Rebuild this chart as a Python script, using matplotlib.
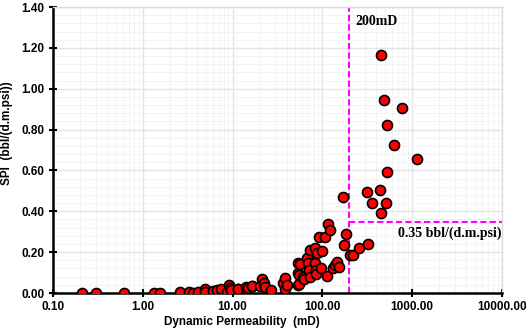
import numpy as np
import matplotlib.pyplot as plt
from matplotlib.ticker import FixedLocator, LogLocator, NullFormatter

# Dynamic permeability (mD) and SPI (bbl/(d.m.psi))
perm = [0.21, 0.30, 0.61, 1.32, 1.57, 2.6, 3.27, 3.6, 4.15, 4.9, 4.9, 6.1,
        6.65, 7.4, 8.6, 9.2, 9.3, 9.7, 11.6, 11.6, 14.1, 14.6, 15.0, 16.3,
        16.6, 20.2, 21.1, 22.5, 22.9, 26.8, 36.1, 38.4, 38.4, 40.0, 53.8,
        53.8, 53.8, 55.3, 55.3, 56.0, 61.2, 63.0, 66.8, 69.0, 70.8, 72.0,
        73.0, 82.8, 82.8, 85.0, 85.0, 87.5, 92.6, 95.7, 99.0, 107, 113.5,
        116, 121.6, 132, 138, 145, 154, 171, 174, 183, 205, 219, 256, 324,
        311, 435, 357, 507, 446, 446, 485, 769, 520, 627, 1122, 520]
spi = [0.0, 0.0, 0.0, 0.0, 0.0, 0.005, 0.007, 0.0, 0.003, 0.02, 0.003, 0.01,
       0.015, 0.02, 0.005, 0.04, 0.025, 0.015, 0.02, 0.018, 0.028, 0.015,
       0.025, 0.034, 0.035, 0.034, 0.067, 0.05, 0.028, 0.015, 0.05, 0.072,
       0.018, 0.039, 0.145, 0.096, 0.039, 0.044, 0.088, 0.142, 0.08, 0.07,
       0.17, 0.145, 0.112, 0.08, 0.21, 0.218, 0.148, 0.112, 0.093, 0.194,
       0.275, 0.12, 0.207, 0.275, 0.083, 0.337, 0.308, 0.12, 0.137, 0.153,
       0.128, 0.47, 0.236, 0.287, 0.186, 0.184, 0.221, 0.241, 0.493, 0.505,
       0.44, 0.44, 0.394, 1.163, 0.943, 0.907, 0.82, 0.723, 0.658, 0.594]

x_ticks = [0.1, 1, 10, 100, 1000, 10000]
y_ticks = [0.0, 0.2, 0.4, 0.6, 0.8, 1.0, 1.2, 1.4]
perm_cut = 200
spi_cut = 0.35

fig = plt.figure(figsize=(5.26, 3.34), dpi=100)
ax = fig.add_axes([53 / 526, 1 - 293 / 334, (502 - 53) / 526, (293 - 7) / 334])

ax.scatter(perm, spi, s=52, c="#ff0000", edgecolors="black", linewidths=1.2, zorder=3)

ax.set_xscale("log")
ax.set_xlim(0.1, 10000)
ax.set_ylim(0, 1.4)

ax.xaxis.set_major_locator(FixedLocator(x_ticks))
ax.set_xticklabels([f"{v:.2f}" for v in x_ticks])
ax.xaxis.set_minor_locator(LogLocator(base=10, subs=np.arange(2, 10)))
ax.xaxis.set_minor_formatter(NullFormatter())
ax.set_yticks(y_ticks)
ax.set_yticklabels([f"{v:.2f}" for v in y_ticks])
ax.set_yticks(np.arange(0, 1.41, 0.04), minor=True)

ax.grid(True, which="major", color="#e4e4e4", linewidth=1.0, zorder=0)
ax.grid(True, which="minor", color="#f3f3f3", linewidth=0.7, zorder=0)
ax.set_axisbelow(True)

for side in ["top", "right"]:
    ax.spines[side].set_color("#dcdcdc")
    ax.spines[side].set_linewidth(1.0)
for side in ["left", "bottom"]:
    ax.spines[side].set_color("black")
    ax.spines[side].set_linewidth(1.8)

ax.tick_params(which="major", direction="inout", length=6, width=1.5,
               labelsize=8.5, pad=3)
ax.tick_params(which="minor", length=0)
for lab in ax.get_xticklabels() + ax.get_yticklabels():
    lab.set_fontweight("bold")
    lab.set_fontfamily("Liberation Sans")

# cutoff lines
ax.axvline(perm_cut, color="#ff00ff", linestyle=(0, (3, 1.5)), linewidth=1.5, zorder=2)
ax.plot([perm_cut, 10000], [spi_cut, spi_cut], color="#ff00ff",
        linestyle=(0, (3, 1.5)), linewidth=1.5, zorder=2)

ax.text(235, 1.33, "200mD", fontsize=10, fontweight="bold",
        family="Liberation Serif", ha="left", va="center")
ax.text(9800, 0.293, "0.35 bbl/(d.m.psi)", fontsize=10, fontweight="bold",
        family="Liberation Serif", ha="right", va="center")

ax.set_xlabel("Dynamic Permeability  (mD)", fontsize=8.5, fontweight="bold",
              family="Liberation Sans")
ax.set_ylabel("SPI  (bbl/(d.m.psi))", fontsize=8.5, fontweight="bold",
              family="Liberation Sans")
ax.xaxis.set_label_coords(0.421, -0.08)
ax.yaxis.set_label_coords(-0.088, 0.559)

fig.savefig("out.png", dpi=100)
